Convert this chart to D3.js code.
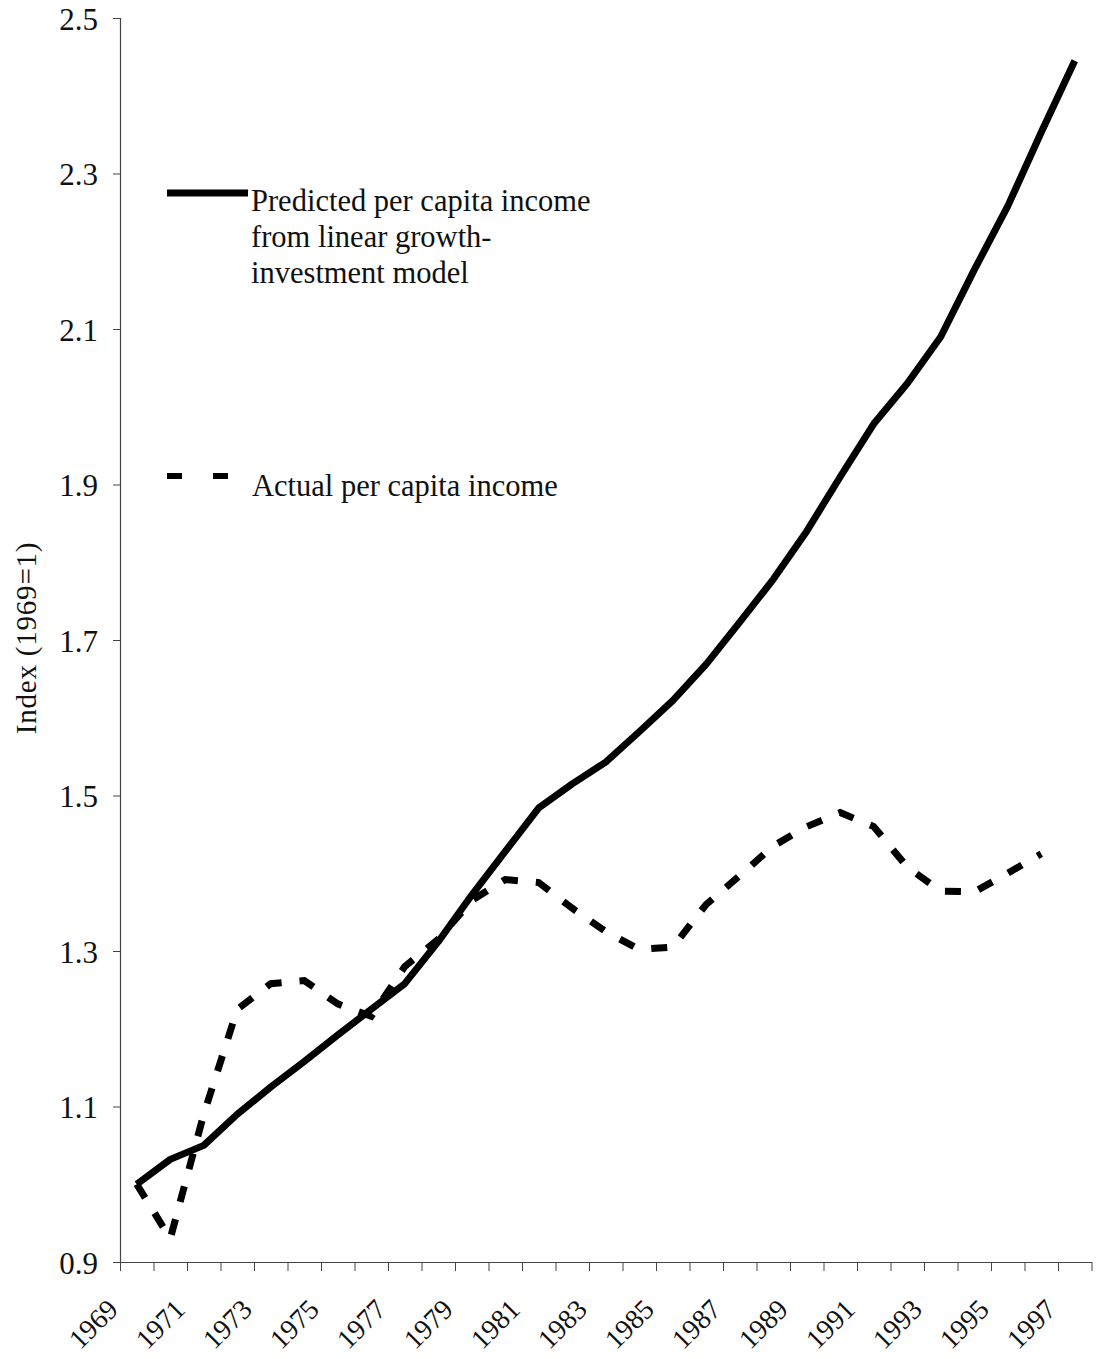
<!DOCTYPE html>
<html>
<head>
<meta charset="utf-8">
<script src="https://cdn.jsdelivr.net/npm/d3@7"></script>
<style>
  body { margin: 0; background: #fff; }
  svg { display: block; font-family: "Liberation Serif", "Times New Roman", serif; }
  svg text { font-family: "Liberation Serif", "Times New Roman", serif; }
</style>
</head>
<body>
<svg width="1100" height="1359"></svg>
<script>
// years on the category axis
const years = d3.range(1969, 1998);

// predicted per capita income (solid), 1969-1997
const predicted = [1.00, 1.032, 1.05, 1.09, 1.125, 1.158, 1.192, 1.225, 1.258, 1.312,
    1.372, 1.428, 1.484, 1.515, 1.543, 1.582, 1.622, 1.669, 1.723, 1.778,
    1.84, 1.91, 1.978, 2.03, 2.09, 2.176, 2.258, 2.353, 2.445];

// actual per capita income (dashed), 1969-1996
const actual = [1.00, 0.93, 1.09, 1.225, 1.258, 1.262, 1.232, 1.216, 1.28, 1.315,
    1.365, 1.392, 1.388, 1.355, 1.325, 1.302, 1.305, 1.36, 1.397, 1.435,
    1.46, 1.478, 1.46, 1.408, 1.377, 1.376, 1.40, 1.425];

const yTicks = [0.9, 1.1, 1.3, 1.5, 1.7, 1.9, 2.1, 2.3, 2.5];
const labelYears = years.filter(y => (y - 1969) % 2 === 0);

const svg = d3.select("svg");
const plotLeft = 120, plotRight = 1091.5, plotTop = 18, plotBottom = 1262;
const serif = '"Liberation Serif", "Times New Roman", serif';

// Scale trục X (categories, points in the middle of each band)
const x = d3.scaleBand()
    .domain(years)
    .range([plotLeft, plotRight])
    .padding(0);
const xEdge = d3.scaleLinear()
    .domain([0, years.length])
    .range([plotLeft, plotRight]);

// Scale trục Y
const y = d3.scaleLinear()
    .domain([0.9, 2.5])
    .range([plotBottom, plotTop]);

const cx = yr => x(yr) + x.bandwidth() / 2;

// Trục Y
const yAxis = svg.append("g")
    .attr("transform", `translate(${plotLeft},0)`)
    .call(d3.axisLeft(y)
        .tickValues(yTicks)
        .tickSize(7)
        .tickPadding(15)
        .tickFormat(d3.format(".1f")))
    .attr("font-family", serif)
    .attr("font-size", 31);
yAxis.select(".domain").attr("stroke", "#444").attr("stroke-width", 1.2);
yAxis.selectAll(".tick line").attr("stroke", "#444");
yAxis.selectAll(".tick text")
    .attr("dy", "0.36em")
    .attr("fill", "#111");

// Trục X: ticks on the category boundaries
const xAxis = svg.append("g")
    .attr("transform", `translate(0,${plotBottom})`)
    .call(d3.axisBottom(xEdge)
        .tickValues(d3.range(0, years.length + 1))
        .tickSize(9)
        .tickSizeOuter(0)
        .tickFormat(""));
xAxis.select(".domain").attr("stroke", "#444").attr("stroke-width", 1.2);
xAxis.selectAll(".tick line").attr("stroke", "#444");

// nhãn năm, xoay -45 độ
svg.append("g")
    .attr("font-family", serif)
    .selectAll("text")
    .data(labelYears)
    .enter().append("text")
    .attr("transform", d => `translate(${cx(d) - 17},${plotBottom + 49}) rotate(-45)`)
    .attr("text-anchor", "end")
    .style("font-size", "28px")
    .attr("fill", "#111")
    .text(d => d);

// Tên trục Y
svg.append("text")
    .attr("transform", "translate(36,638) rotate(-90)")
    .attr("text-anchor", "middle")
    .style("font-size", "29px")
    .style("letter-spacing", "0.8px")
    .attr("fill", "#111")
    .text("Index (1969=1)");

const line = d3.line()
    .x((d, i) => cx(years[i]))
    .y(d => y(d));

// đường dự báo (liền)
svg.append("path")
    .datum(predicted)
    .attr("fill", "none")
    .attr("stroke", "#000")
    .attr("stroke-width", 7)
    .attr("stroke-linejoin", "round")
    .attr("d", line);

// đường thực tế (nét đứt)
svg.append("path")
    .datum(actual)
    .attr("fill", "none")
    .attr("stroke", "#000")
    .attr("stroke-width", 7)
    .attr("stroke-dasharray", "16,18")
    .attr("d", line);

// Chú thích
const legend = svg.append("g");
legend.append("line")
    .attr("x1", 167).attr("x2", 248)
    .attr("y1", 193).attr("y2", 193)
    .attr("stroke", "#000")
    .attr("stroke-width", 7);
legend.append("text")
    .attr("x", 251)
    .attr("y", 211)
    .style("font-size", "30.5px")
    .attr("fill", "#111")
    .selectAll("tspan")
    .data(["Predicted per capita income", "from linear growth-", "investment model"])
    .enter().append("tspan")
    .attr("x", 251)
    .attr("dy", (d, i) => i === 0 ? 0 : 36)
    .text(d => d);

legend.append("line")
    .attr("x1", 167).attr("x2", 228)
    .attr("y1", 476).attr("y2", 476)
    .attr("stroke", "#000")
    .attr("stroke-width", 6)
    .attr("stroke-dasharray", "15,31");
legend.append("text")
    .attr("x", 252)
    .attr("y", 496)
    .style("font-size", "30.5px")
    .attr("fill", "#111")
    .text("Actual per capita income");
</script>
</body>
</html>
